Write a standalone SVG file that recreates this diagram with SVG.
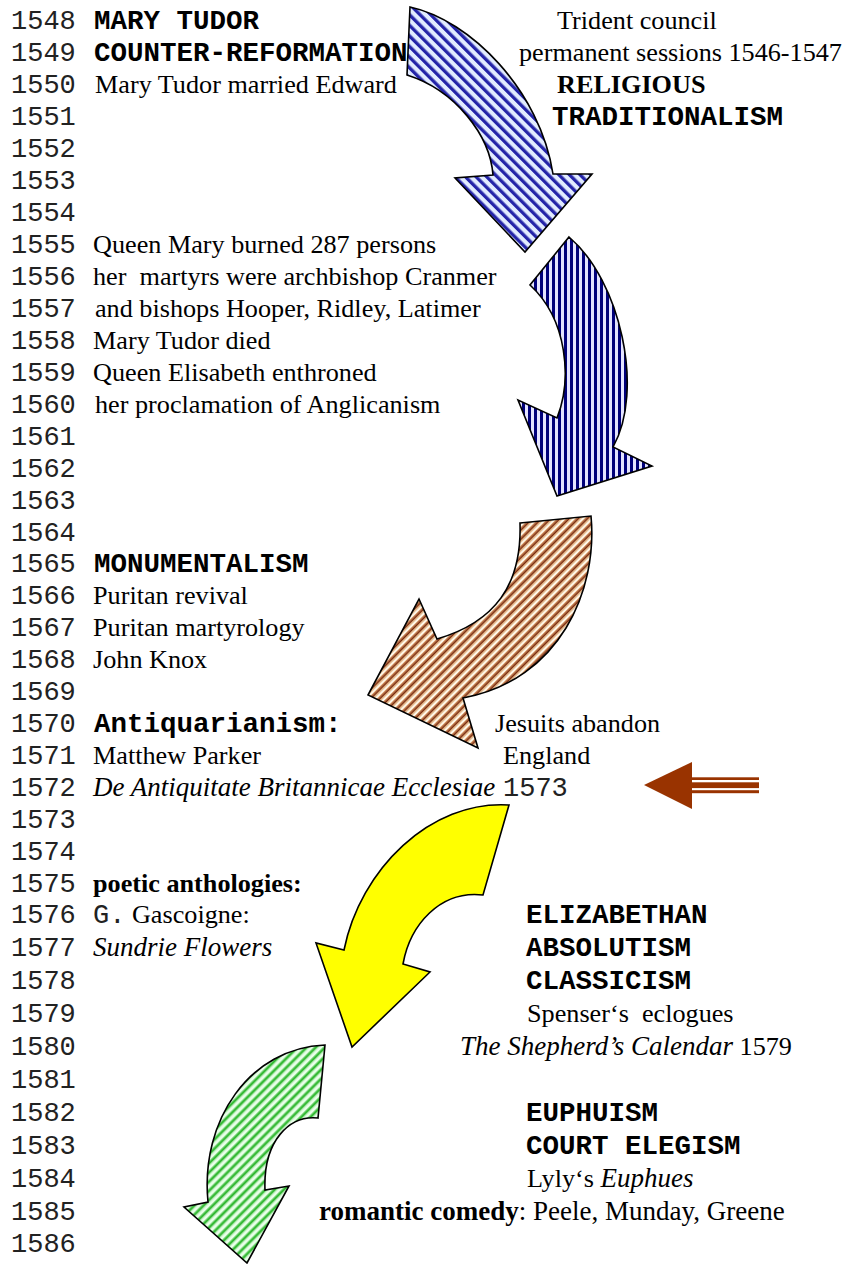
<svg xmlns="http://www.w3.org/2000/svg" width="850" height="1264" viewBox="0 0 850 1264">
<defs>
<style>
.yr{font-family:"Liberation Mono","Courier New",monospace;font-size:27px;fill:#222}
.t{font-family:"Liberation Serif","Times New Roman",serif;font-size:26.2px;fill:#000}
.tb{font-family:"Liberation Serif","Times New Roman",serif;font-size:26.2px;font-weight:bold;fill:#000}
.ti{font-family:"Liberation Serif","Times New Roman",serif;font-size:27px;font-style:italic;fill:#000}
.cb{font-family:"Liberation Mono","Courier New",monospace;font-size:27.5px;font-weight:bold;fill:#000}
.arr{stroke:#000;stroke-width:1.6;stroke-linejoin:miter}
</style>
<pattern id="pBlue" width="7.5" height="7.5" patternUnits="userSpaceOnUse" patternTransform="rotate(-45)">
<rect width="7.5" height="7.5" fill="#e2ecff"/><rect x="0" width="3.3" height="7.5" fill="#2424a8"/>
</pattern>
<pattern id="pNavy" width="6" height="6" patternUnits="userSpaceOnUse">
<rect width="6" height="6" fill="#e4e4ff"/><rect x="0" width="3" height="6" fill="#00007a"/>
</pattern>
<pattern id="pBrown" width="6.5" height="6.5" patternUnits="userSpaceOnUse" patternTransform="rotate(45)">
<rect width="6.5" height="6.5" fill="#fff8ea"/><rect x="0" width="1.2" height="6.5" fill="#cf8a55"/><rect x="1.2" width="1.9" height="6.5" fill="#7e2c0c"/><rect x="3.1" width="1.2" height="6.5" fill="#d9a46e"/>
</pattern>
<pattern id="pGreen" width="6.5" height="6.5" patternUnits="userSpaceOnUse" patternTransform="rotate(45)">
<rect width="6.5" height="6.5" fill="#eaffea"/><rect x="0" width="1" height="6.5" fill="#8fdc8f"/><rect x="1" width="1.9" height="6.5" fill="#2fb82f"/><rect x="2.9" width="1" height="6.5" fill="#8fdc8f"/>
</pattern>
</defs>
<rect width="850" height="1264" fill="#fff"/>

<g id="arrows">
<path id="arrow-blue" class="arr" fill="url(#pBlue)" d="M410,7 C470,20 540,90 553,174 L592,174 L525,252 L455,178 L493,175 C490,135 455,90 407,75 Z"/>
<path id="arrow-navy" class="arr" fill="url(#pNavy)" d="M569,237 C620,280 645,390 613,447 L652,466 L557,496 L518,400 L557,418 C572,380 568,320 530,285 Z"/>
<path id="arrow-brown" class="arr" fill="url(#pBrown)" d="M520,523 L591,516 C598,590 560,680 463,698 L478,748 L368,695 L419,599 L437,639 C495,622 522,585 520,523 Z"/>
<path id="arrow-yellow" class="arr" fill="#ffff00" d="M509,805 L483,895 C440,890 410,925 403,964 L430,972 L352,1047 L316,943 L344,950 C360,870 430,800 509,805 Z"/>
<path id="arrow-green" class="arr" fill="url(#pGreen)" d="M325,1045 L318,1118 C290,1115 263,1140 265,1190 L289,1186 L247,1263 L184,1207 L208,1202 C200,1120 250,1048 325,1045 Z"/>
<g id="arrow-left">
<polygon points="644,785 692,762 692,809" fill="#993300"/>
<rect x="691" y="777.3" width="68" height="2.7" fill="#993300"/>
<rect x="691" y="782.3" width="68" height="5.8" fill="#993300"/>
<rect x="691" y="790.2" width="68" height="3" fill="#993300"/>
</g>
</g>

<g id="years" class="yr">
<text x="11" y="29">1548</text>
<text x="11" y="61">1549</text>
<text x="11" y="93">1550</text>
<text x="11" y="125">1551</text>
<text x="11" y="157">1552</text>
<text x="11" y="189">1553</text>
<text x="11" y="221">1554</text>
<text x="11" y="253">1555</text>
<text x="11" y="285">1556</text>
<text x="11" y="317">1557</text>
<text x="11" y="349">1558</text>
<text x="11" y="381">1559</text>
<text x="11" y="413">1560</text>
<text x="11" y="445">1561</text>
<text x="11" y="477">1562</text>
<text x="11" y="509">1563</text>
<text x="11" y="541">1564</text>
<text x="11" y="572">1565</text>
<text x="11" y="604">1566</text>
<text x="11" y="636">1567</text>
<text x="11" y="668">1568</text>
<text x="11" y="700">1569</text>
<text x="11" y="732">1570</text>
<text x="11" y="764">1571</text>
<text x="11" y="796">1572</text>
<text x="11" y="828">1573</text>
<text x="11" y="860">1574</text>
<text x="11" y="892">1575</text>
<text x="11" y="923">1576</text>
<text x="11" y="956">1577</text>
<text x="11" y="989">1578</text>
<text x="11" y="1022">1579</text>
<text x="11" y="1055">1580</text>
<text x="11" y="1088">1581</text>
<text x="11" y="1121">1582</text>
<text x="11" y="1154">1583</text>
<text x="11" y="1187">1584</text>
<text x="11" y="1220">1585</text>
<text x="11" y="1252">1586</text>
</g>

<g id="left-texts">
<text class="cb" x="94" y="29">MARY TUDOR</text>
<text class="cb" x="94" y="61">COUNTER-REFORMATION</text>
<text class="t" x="95" y="93">Mary Tudor married Edward</text>
<text class="t" x="93" y="253">Queen Mary burned 287 persons</text>
<text class="t" x="93" y="285" xml:space="preserve">her  martyrs were archbishop Cranmer</text>
<text class="t" x="95" y="317">and bishops Hooper, Ridley, Latimer</text>
<text class="t" x="93" y="349">Mary Tudor died</text>
<text class="t" x="93" y="381">Queen Elisabeth enthroned</text>
<text class="t" x="95" y="413">her proclamation of Anglicanism</text>
<text class="cb" x="94" y="572">MONUMENTALISM</text>
<text class="t" x="93" y="604">Puritan revival</text>
<text class="t" x="93" y="636">Puritan martyrology</text>
<text class="t" x="93" y="668">John Knox</text>
<text class="cb" x="94" y="732">Antiquarianism:</text>
<text class="t" x="93" y="764">Matthew Parker</text>
<text class="ti" x="93" y="796">De Antiquitate Britannicae Ecclesiae</text>
<text class="yr" x="503" y="796">1573</text>
<text class="tb" x="93" y="892">poetic anthologies:</text>
<text x="93" y="923"><tspan class="yr">G.</tspan><tspan class="t"> Gascoigne:</tspan></text>
<text class="ti" x="93" y="956">Sundrie Flowers</text>
</g>

<g id="right-texts">
<text class="t" x="557" y="29">Trident council</text>
<text class="t" x="519" y="61">permanent sessions 1546-1547</text>
<text class="tb" x="557" y="93">RELIGIOUS</text>
<text class="cb" x="552" y="125">TRADITIONALISM</text>
<text class="t" x="495" y="732">Jesuits abandon</text>
<text class="t" x="503" y="764">England</text>
<text class="cb" x="526" y="923">ELIZABETHAN</text>
<text class="cb" x="526" y="956">ABSOLUTISM</text>
<text class="cb" x="526" y="989">CLASSICISM</text>
<text class="t" x="527" y="1022" xml:space="preserve">Spenser‘s  eclogues</text>
<text x="460" y="1055"><tspan class="ti">The Shepherd’s Calendar</tspan><tspan class="t"> 1579</tspan></text>
<text class="cb" x="526" y="1121">EUPHUISM</text>
<text class="cb" x="526" y="1154">COURT ELEGISM</text>
<text x="527" y="1187"><tspan class="t">Lyly‘s </tspan><tspan class="ti">Euphues</tspan></text>
<text x="319" y="1220" style="font-size:27px"><tspan class="tb" style="font-size:27px">romantic comedy</tspan><tspan class="t" style="font-size:27px">: Peele, Munday, Greene</tspan></text>
</g>
</svg>
